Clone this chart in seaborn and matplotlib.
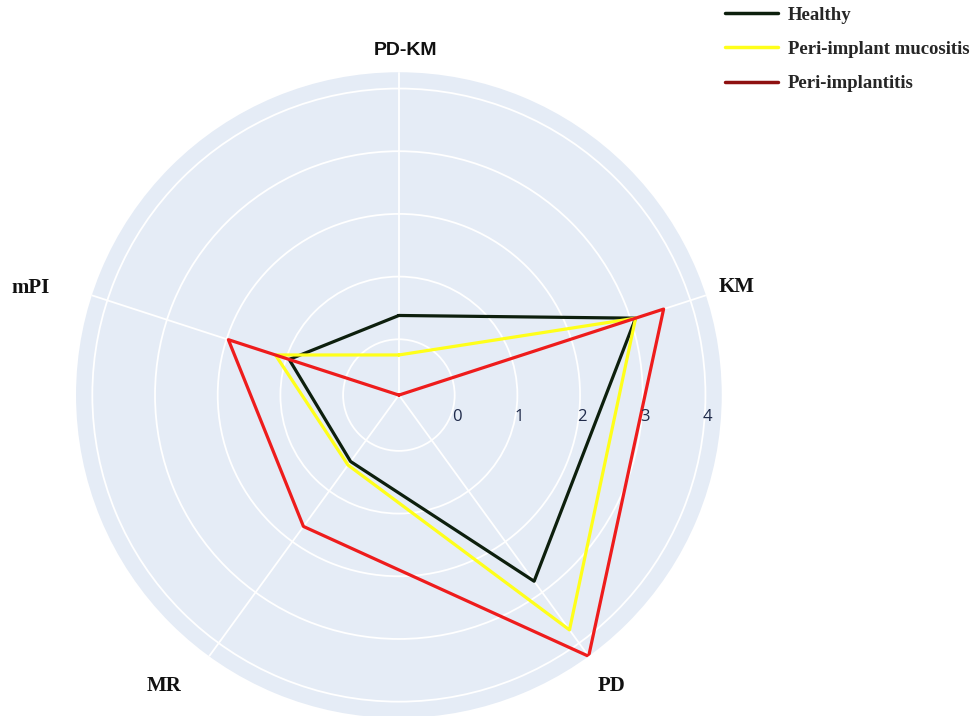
import numpy as np
import pandas as pd
import seaborn as sns
import matplotlib.pyplot as plt
from matplotlib.lines import Line2D
from matplotlib.transforms import offset_copy

sns.set_theme(style="white")

# data
categories = ['PD-KM', 'KM', 'PD', 'MR', 'mPI']
groups = ['Healthy', 'Peri-implant mucositis', 'Peri-implantitis']
healthy = [0.38, 3.08, 2.78, 0.42, 0.95]
mucositis = [-0.25, 3.08, 3.74, 0.49, 1.18]
implantitis = [-0.89, 3.55, 4.26, 1.70, 1.97]
radial_ticks = [0, 1, 2, 3, 4]

# colors
line_colors = {'Healthy': '#0d1f0d', 'Peri-implant mucositis': '#ffff1a', 'Peri-implantitis': '#ee1c1c'}
legend_colors = ['#0d1f0d', '#ffff1a', '#8e1010']
bg = '#e5ecf6'

angles = np.linspace(0, 2 * np.pi, len(categories), endpoint=False)

rows = []
for g, vals in zip(groups, [healthy, mucositis, implantitis]):
    for i in range(len(categories) + 1):
        rows.append({'theta': angles[i % 5] + (2 * np.pi if i == 5 else 0),
                     'value': vals[i % 5], 'group': g})
df = pd.DataFrame(rows)

fig = plt.figure(figsize=(9.71, 7.16), dpi=100)
ax = fig.add_axes([0.0783, -0.0028, 0.665, 0.902], projection='polar')
ax.set_theta_offset(np.pi / 2)
ax.set_theta_direction(-1)
ax.set_facecolor(bg)

sns.lineplot(data=df, x='theta', y='value', hue='group', palette=line_colors,
             sort=False, estimator=None, linewidth=2.3, legend=False, ax=ax)

rmin, rmax = -0.89, 4.26
ax.set_ylim(rmin, rmax)
ax.set_yticks(radial_ticks)
ax.set_yticklabels([])
ax.set_xticks(angles)
ax.set_xticklabels([])
ax.grid(True, color='white', linewidth=1.3)
ax.spines['polar'].set_visible(False)
ax.set_xlabel('')
ax.set_ylabel('')

# radial tick labels below the 0-degree spoke
tick_tr = offset_copy(ax.transData, fig=fig, x=1.5, y=-10, units='points')
for t in radial_ticks:
    ax.text(np.pi / 2, t, str(t), transform=tick_tr, ha='center', va='top',
            fontsize=12, color='#1f2a4a', family='Open Sans')

# category labels, offset (pixels) from the outer end of each spoke
label_off = [(7, 22), (31, 8), (23, -30), (-45, -30), (-61, 7)]
for i, c in enumerate(categories):
    fam = 'Liberation Sans' if c == 'PD-KM' else 'Liberation Serif'
    size = 14 if c == 'PD-KM' else 15
    ax.annotate(c, xy=(angles[i], rmax), xytext=label_off[i],
                textcoords='offset pixels', ha='center', va='center',
                fontsize=size, fontweight='bold', family=fam,
                color='#111111', annotation_clip=False)

handles = [Line2D([0], [0], color=col, linewidth=2.5) for col in legend_colors]
fig.legend(handles, groups, loc='upper left', bbox_to_anchor=(0.7466, 0.991),
           frameon=False, handlelength=2.83, handletextpad=0.53,
           labelspacing=0.92, borderpad=0, borderaxespad=0,
           prop={'family': 'Liberation Serif', 'weight': 'bold', 'size': 13.5})

fig.savefig('out.png', dpi=100)
